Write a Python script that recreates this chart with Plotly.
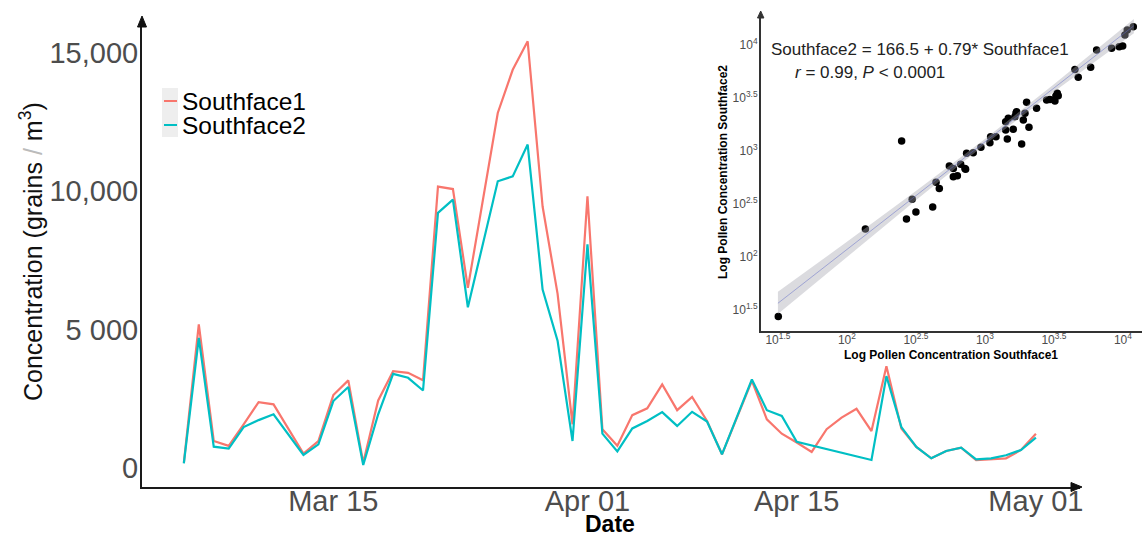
import plotly.graph_objects as go

W, H = 1142, 538
def px(x): return x / W
def py(y): return 1 - y / H

# ---------------- time series data ----------------
dates = ["2019-03-05","2019-03-06","2019-03-07","2019-03-08","2019-03-09","2019-03-10",
         "2019-03-11","2019-03-13","2019-03-14","2019-03-15","2019-03-16","2019-03-17",
         "2019-03-18","2019-03-19","2019-03-20","2019-03-21","2019-03-22","2019-03-23",
         "2019-03-24","2019-03-26","2019-03-27","2019-03-28","2019-03-29","2019-03-30",
         "2019-03-31","2019-04-01","2019-04-02","2019-04-03","2019-04-04","2019-04-05",
         "2019-04-06","2019-04-07","2019-04-08","2019-04-09","2019-04-10","2019-04-12",
         "2019-04-13","2019-04-14","2019-04-15","2019-04-16","2019-04-17","2019-04-18",
         "2019-04-19","2019-04-20","2019-04-21","2019-04-22","2019-04-23","2019-04-24",
         "2019-04-25","2019-04-26","2019-04-27","2019-04-28","2019-04-29","2019-04-30",
         "2019-05-01"]
southface1 = [190, 5190, 975, 800, 1580, 2380,
              2300, 520, 975, 2635, 3165, 190,
              2440, 3500, 3440, 3170, 10170, 10080,
              6510, 12830, 14390, 15420, 9450, 6300,
              1580, 9820, 1400, 800, 1910, 2155,
              3020, 2090, 2570, 1700, 495, 3150,
              1760, 1240, 920, 580, 1400, 1820,
              2140, 1335, 3680, 1430, 760, 350,
              615, 735, 280, 315, 350, 650,
              1240]
southface2 = [170, 4700, 770, 700, 1480, 1730,
              1940, 470, 855, 2420, 2925, 110,
              1940, 3400, 3260, 2800, 9220, 9700,
              5810, 10360, 10540, 11690, 6450, 4600,
              975, 8080, 1240, 600, 1430, 1700,
              2020, 1520, 2030, 1680, 495, 3200,
              2090, 1880, 950, None, None, None,
              None, 290, 3320, 1480, 760, 350,
              615, 735, 315, 350, 460, 650,
              1095]

y_tickvals = [0, 5000, 10000, 15000]
y_ticktext = ["0", "5 000", "10,000", "15,000"]
x_tickvals = ["2019-03-15", "2019-04-01", "2019-04-15", "2019-05-01"]
x_ticktext = ["Mar 15", "Apr 01", "Apr 15", "May 01"]

# ---------------- inset scatter data ----------------
sc_sf1 = [31.8, 136, 249, 270, 297, 316, 418, 442, 467, 552, 590, 631, 667, 716, 736, 822,
          935, 1086, 1099, 1202, 1413, 1452, 1413, 1476, 1603, 1679, 1648, 1845, 1897, 1950,
          2004, 2084, 2366, 2799, 2958, 3214, 3266, 3342, 3396, 4487, 4742, 5834, 6442, 8279,
          9397, 9954, 10328, 10740, 11885, 590, 724, 1694]
sc_sf2 = [27.4, 184, 1242, 228, 350, 266, 296, 506, 442, 721, 573, 585, 748, 685, 951, 964,
          1084, 1199, 1365, 1365, 1578, 1297, 1892, 2032, 1600, 2265, 2109, 1164, 1959, 2265,
          2877, 1671, 2529, 3027, 3069, 2965, 3304, 3499, 3327, 5888, 4955, 6152, 8974, 9311,
          9638, 9795, 12417, 13868, 14894, 685, 671, 2350]
fit_x = [31.6, 100, 316, 1000, 3162, 12000]
fit_y = [36.6, 118, 379, 1222, 3936, 15200]
fit_lo = [29.0, 100, 343, 1151, 3631, 12900]
fit_hi = [47.0, 139, 420, 1297, 4266, 17600]
log_tickvals = [10**1.5, 10**2, 10**2.5, 10**3, 10**3.5, 10**4]
log_ticktext = ["10<sup>1.5</sup>", "10<sup>2</sup>", "10<sup>2.5</sup>",
                "10<sup>3</sup>", "10<sup>3.5</sup>", "10<sup>4</sup>"]

RED = "#F8766D"
TEAL = "#00BFC4"
FONT = "Liberation Sans, Arial, sans-serif"

fig = go.Figure()
fig.add_trace(go.Scatter(x=dates, y=southface1, mode="lines", name="Southface1",
                         line=dict(color=RED, width=2.2), xaxis="x", yaxis="y",
                         showlegend=False))
fig.add_trace(go.Scatter(x=dates, y=southface2, mode="lines", name="Southface2",
                         line=dict(color=TEAL, width=2.2), connectgaps=True,
                         xaxis="x", yaxis="y", showlegend=False))

# inset
fig.add_trace(go.Scatter(x=sc_sf1, y=sc_sf2, mode="markers",
                         marker=dict(color="black", size=7.5), xaxis="x2", yaxis="y2",
                         showlegend=False))
fig.add_trace(go.Scatter(x=fit_x, y=fit_lo, mode="lines", line=dict(width=0),
                         xaxis="x2", yaxis="y2", showlegend=False, hoverinfo="skip"))
fig.add_trace(go.Scatter(x=fit_x, y=fit_hi, mode="lines", line=dict(width=0),
                         fill="tonexty", fillcolor="rgba(165,165,175,0.4)",
                         xaxis="x2", yaxis="y2", showlegend=False, hoverinfo="skip"))
fig.add_trace(go.Scatter(x=fit_x, y=fit_y, mode="lines",
                         line=dict(color="rgba(100,110,200,0.5)", width=1),
                         xaxis="x2", yaxis="y2", showlegend=False, hoverinfo="skip"))

axis_common = dict(showgrid=False, zeroline=False, ticks="")

fig.update_layout(
    width=W, height=H,
    margin=dict(l=0, r=0, t=0, b=0),
    paper_bgcolor="white", plot_bgcolor="white",
    font=dict(family=FONT),
    xaxis=dict(domain=[px(142), px(1080)], type="date",
               range=["2019-03-02 04:48", "2019-05-03 22:48"],
               tickvals=x_tickvals, ticktext=x_ticktext,
               tickfont=dict(size=29, color="#4d4d4d"),
               showline=True, linecolor="#1a1a1a", linewidth=2,
               anchor="y", automargin=False, ticklabelstandoff=-13, **axis_common),
    yaxis=dict(domain=[py(487), py(22)], range=[-687, 16118],
               tickvals=y_tickvals, ticktext=y_ticktext,
               tickfont=dict(size=29, color="#4d4d4d"),
               showline=True, linecolor="#1a1a1a", linewidth=2,
               anchor="x", automargin=False, ticklabelstandoff=-4, **axis_common),
    xaxis2=dict(domain=[px(760.7), 1.0], type="log", range=[1.375, 4.138],
                tickvals=log_tickvals, ticktext=log_ticktext,
                tickfont=dict(size=12, color="#4d4d4d"),
                showline=True, linecolor="#333333", linewidth=1.5,
                anchor="y2", automargin=False, ticklabelstandoff=-3, **axis_common),
    yaxis2=dict(domain=[py(331), py(15)], type="log", range=[1.302, 4.283],
                tickvals=log_tickvals, ticktext=log_ticktext,
                tickfont=dict(size=12, color="#4d4d4d"),
                showline=True, linecolor="#333333", linewidth=1.5,
                anchor="x2", automargin=False, ticklabelstandoff=-1, **axis_common),
)

def tri(p1, p2, p3, color):
    path = "M {} {} L {} {} L {} {} Z".format(px(p1[0]), py(p1[1]), px(p2[0]), py(p2[1]),
                                              px(p3[0]), py(p3[1]))
    return dict(type="path", xref="paper", yref="paper", path=path,
                fillcolor=color, line=dict(color=color, width=1))

shapes = [
    # legend key background
    dict(type="rect", xref="paper", yref="paper", x0=px(162), x1=px(178), y0=py(137), y1=py(88),
         fillcolor="#eeeeee", line=dict(width=0), layer="below"),
    dict(type="line", xref="paper", yref="paper", x0=px(164), x1=px(177), y0=py(101), y1=py(101),
         line=dict(color=RED, width=2)),
    dict(type="line", xref="paper", yref="paper", x0=px(164), x1=px(177), y0=py(125), y1=py(125),
         line=dict(color=TEAL, width=2)),
    # axis arrow heads
    tri((142, 16), (137.5, 27), (146.5, 27), "#111111"),
    tri((1082, 487), (1071, 482.5), (1071, 491.5), "#111111"),
    tri((760.7, 11), (757.5, 18), (763.9, 18), "#333333"),
]
fig.update_layout(shapes=shapes)

ann = [
    dict(text="Southface1", x=px(180), y=py(101), xanchor="left", yanchor="middle",
         font=dict(size=24.5, color="black")),
    dict(text="Southface2", x=px(180), y=py(126), xanchor="left", yanchor="middle",
         font=dict(size=24.5, color="black")),
    dict(text='Concentration (grains<span style="color:#bbbbbb"> / </span>m<sup>3</sup>)',
         x=px(31), y=py(252), textangle=-90, xanchor="center", yanchor="middle",
         font=dict(size=25, color="#111111")),
    dict(text="<b>Date</b>", x=px(610), y=py(524), xanchor="center", yanchor="middle",
         font=dict(size=23, color="black")),
    dict(text="<b>Log Pollen Concentration Southface1</b>", x=px(951), y=py(355),
         xanchor="center", yanchor="middle", font=dict(size=12, color="black")),
    dict(text="<b>Log Pollen Concentration Southface2</b>", x=px(723), y=py(172),
         textangle=-90, xanchor="center", yanchor="middle", font=dict(size=12, color="black")),
    dict(text="Southface2 = 166.5 + 0.79* Southface1", x=px(920), y=py(49),
         xanchor="center", yanchor="middle", font=dict(size=17, color="#222222")),
    dict(text="<i>r</i> = 0.99, <i>P</i> < 0.0001", x=px(793), y=py(72),
         xanchor="left", yanchor="middle", font=dict(size=17, color="#222222")),
]
for a in ann:
    a.setdefault("xref", "paper")
    a.setdefault("yref", "paper")
    a.setdefault("showarrow", False)
fig.update_layout(annotations=ann)

fig.write_html("out.html")
